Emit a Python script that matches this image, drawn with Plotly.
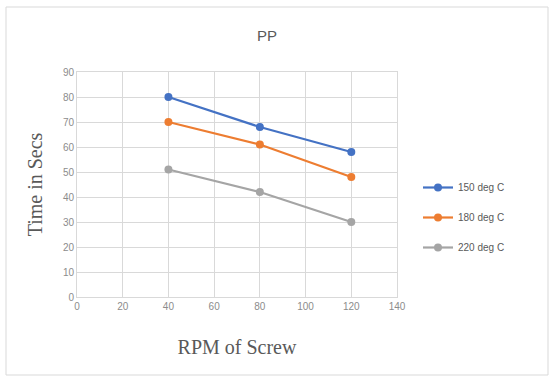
import plotly.graph_objects as go

rpm = [40, 80, 120]
t150 = [80, 68, 58]
t180 = [70, 61, 48]
t220 = [51, 42, 30]
names = ["150 deg C", "180 deg C", "220 deg C"]
colors = ["#4472C4", "#ED7D31", "#A5A5A5"]

fig = go.Figure()
for i, (ys, nm, c) in enumerate(zip([t150, t180, t220], names, colors)):
    fig.add_trace(go.Scatter(
        x=rpm, y=ys, name=nm, mode="lines+markers",
        line=dict(color=c, width=2.2),
        marker=dict(color=c, size=8),
        legendgroup=f"g{i}",
    ))

L, R, T, B = 77, 153, 72, 82
pw, ph = 550 - L - R, 379 - T - B

fig.update_layout(
    width=550, height=379,
    margin=dict(l=L, r=R, t=T, b=B),
    paper_bgcolor="white", plot_bgcolor="white",
    title=dict(text="PP", x=267 / 550, xanchor="center", y=1 - 36 / 379, yanchor="middle",
               font=dict(family="Liberation Sans, Arial", size=15, color="#595959")),
    xaxis=dict(range=[0, 140], dtick=20, tick0=0, showgrid=True, gridcolor="#d9d9d9", gridwidth=1,
               zeroline=False, showline=True, linecolor="#d9d9d9", mirror=True,
               ticks="", tickfont=dict(family="Liberation Sans, Arial", size=10, color="#8c8c8c"),
               title=dict(text="RPM of Screw", standoff=28,
                          font=dict(family="Liberation Serif, Times New Roman", size=20, color="#595959"))),
    yaxis=dict(range=[0, 90], dtick=10, tick0=0, showgrid=True, gridcolor="#d9d9d9", gridwidth=1,
               zeroline=False, showline=True, linecolor="#d9d9d9", mirror=True,
               ticks="", tickfont=dict(family="Liberation Sans, Arial", size=10, color="#8c8c8c"),
               title=dict(text="Time in Secs", standoff=14,
                          font=dict(family="Liberation Serif, Times New Roman", size=20, color="#595959"))),
    legend=dict(x=(418 - L) / pw, xanchor="left", y=(297 - 173) / ph, yanchor="top",
                font=dict(family="Liberation Sans, Arial", size=10, color="#595959"),
                tracegroupgap=11, itemwidth=30, bgcolor="rgba(0,0,0,0)"),
    shapes=[dict(type="rect", xref="paper", yref="paper",
                 x0=(6 - L) / pw, x1=(548 - L) / pw,
                 y0=(297 - 375) / ph, y1=(297 - 7) / ph,
                 line=dict(color="#d9d9d9", width=1), fillcolor="rgba(0,0,0,0)", layer="below")],
)

fig.write_html("out.html")
